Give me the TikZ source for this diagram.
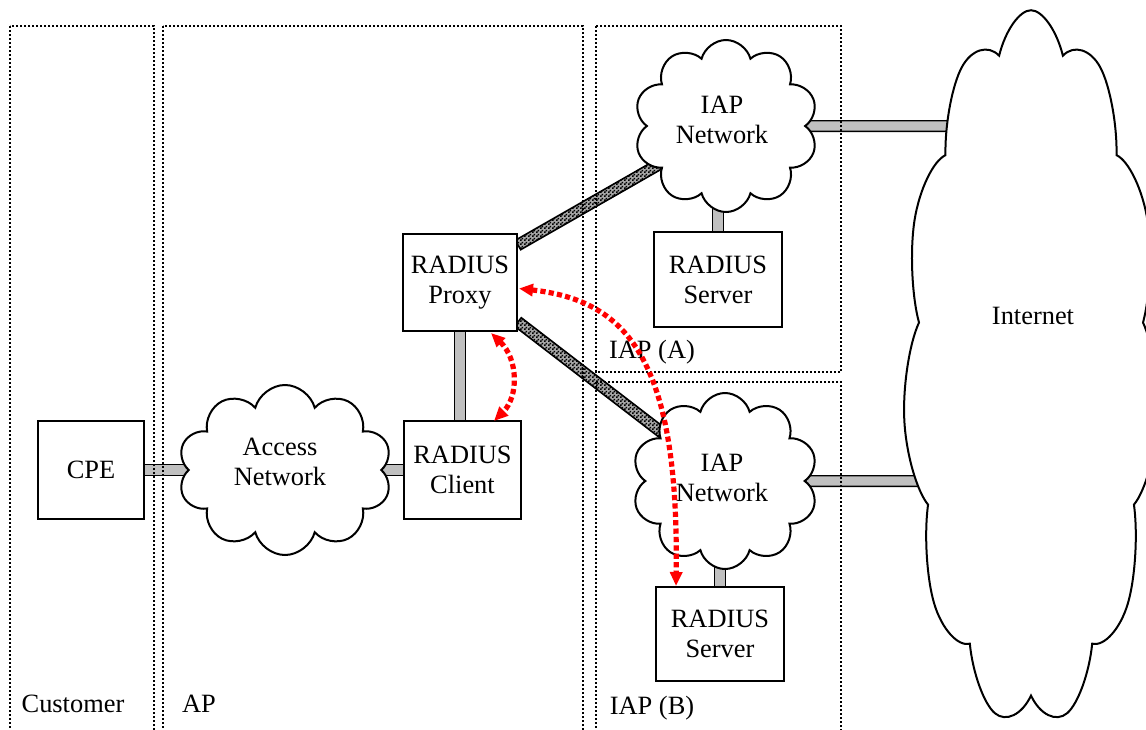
\documentclass[tikz,border=0pt]{standalone}
\usepackage{fontspec}
\setmainfont{Liberation Serif}
\usetikzlibrary{shapes.symbols,calc,patterns,arrows.meta}
\pgfdeclarepatternformonly{finecheck}{\pgfpointorigin}{\pgfqpoint{2pt}{2pt}}{\pgfqpoint{2pt}{2pt}}{%
  \pgfpathrectangle{\pgfpointorigin}{\pgfqpoint{1pt}{1pt}}%
  \pgfpathrectangle{\pgfqpoint{1pt}{1pt}}{\pgfqpoint{1pt}{1pt}}%
  \pgfusepath{fill}}
\pgfdeclarelayer{bg}
\pgfsetlayers{bg,main}
\definecolor{linkgray}{HTML}{C0C0C0}
\newcommand\hatchbar[2]{%
  \draw[hatchlink] ($(#1)!2.7pt!90:(#2)$) -- ($(#2)!2.7pt!-90:(#1)$) -- ($(#2)!2.7pt!90:(#1)$) -- ($(#1)!2.7pt!-90:(#2)$) -- cycle;}
\begin{document}
\begin{tikzpicture}[x=0.5pt,y=-0.5pt,
  font=\fontsize{13.2}{15}\selectfont,
  box/.style={draw,line width=1pt,fill=white,align=center,inner sep=0pt},
  cloudnode/.style={cloud,draw,line width=1pt,fill=white,align=center,cloud ignores aspect,inner sep=0pt},
  cloudtext/.style={align=center,inner sep=0pt},
  region/.style={draw,line width=0.65pt,dash pattern=on 1.2pt off 0.8pt},
  graylink/.style={draw=black,line width=0.7pt,double=linkgray,double distance=4.6pt},
  hatchlink/.style={draw=black,line width=0.8pt,preaction={fill=black!35},pattern=finecheck},
  redarrow/.style={draw=red,line width=2.6pt,dash pattern=on 2.6pt off 1.6pt,
    {Triangle[length=7pt,width=6pt]}-{Triangle[length=7pt,width=6pt]}}
]
\useasboundingbox (0,0) rectangle (1146,729);

% boxes
\node[box,minimum width=53pt,minimum height=49pt] (cpe) at (91,470) {CPE};
\node[box,minimum width=57pt,minimum height=48.5pt] (proxy) at (460,282.5) {RADIUS\\Proxy};
\node[box,minimum width=58.5pt,minimum height=49pt] (client) at (462.5,470) {RADIUS\\Client};
\node[box,minimum width=64pt,minimum height=47.5pt] (serverA) at (718,279.5) {RADIUS\\Server};
\node[box,minimum width=64pt,minimum height=47pt] (serverB) at (720,634) {RADIUS\\Server};

% clouds
\node[cloudnode,cloud puffs=10,minimum width=107pt,minimum height=85pt,
  label={[cloudtext,xshift=-2.5pt,yshift=4pt]center:Access\\Network}] (access) at (285,470) {};
\node[cloudnode,cloud puffs=10,minimum width=92pt,minimum height=86pt,
  label={[cloudtext,xshift=-2pt,yshift=3pt]center:IAP\\Network}] (cloudA) at (726,126) {};
\node[cloudnode,cloud puffs=10,minimum width=93pt,minimum height=88pt,
  label={[cloudtext,xshift=-1.5pt,yshift=1.5pt]center:IAP\\Network}] (cloudB) at (725,481) {};
\begin{scope}[shift={(1031,369)},yscale=2.6]
\node[cloudnode,transform shape,cloud puffs=11,cloud puff arc=115,minimum width=128pt,minimum height=138pt] (inet) at (0,0) {};
\end{scope}
\node (inetlabel) at (1033,316) {Internet};

% region labels
\node (custlabel) at (73,704) {Customer};
\node (aplabel) at (199,704) {AP};
\node (iapAlabel) at (652,352) {IAP (A)};
\node (iapBlabel) at (652,708) {IAP (B)};

\coordinate (hA) at ($(proxy.north east)+(0,12)$);
\coordinate (hB) at ($(proxy.south east)+(0,-10)$);

\begin{pgfonlayer}{bg}
  \draw[graylink] (cpe) -- (cpe -| access);
  \draw[graylink] (client) -- (client -| access);
  \draw[graylink] (proxy) -- (proxy |- client);
  \draw[graylink] (serverA) -- (serverA |- cloudA);
  \draw[graylink] (serverB) -- (serverB |- cloudB);
  \draw[graylink] (cloudA) -- (cloudA -| inet);
  \draw[graylink] (cloudB) -- (cloudB -| inet);
  \hatchbar{hA}{cloudA.center}
  \hatchbar{hB}{cloudB.center}
  \draw[region] (10,26) rectangle (154,740);
  \draw[region] (163,26) rectangle (583,740);
  \draw[region] (596,26) rectangle (841,372);
  \draw[region] (596,382) rectangle (841,740);
\end{pgfonlayer}

% red arrows
\coordinate (r1a) at ($(proxy.south east)+(-27,1)$);
\coordinate (r1b) at ($(client.north east)+(-28,1)$);
\coordinate (r2a) at ($(proxy.east)+(1,6)$);
\coordinate (r2b) at ($(serverB.north west)+(21,0)$);
\draw[redarrow] (r1a) .. controls +(27,26) and +(25,-25) .. (r1b);
\draw[redarrow] (r2a) .. controls +(108,12) and +(3,-227) .. (r2b);
\end{tikzpicture}
\end{document}
